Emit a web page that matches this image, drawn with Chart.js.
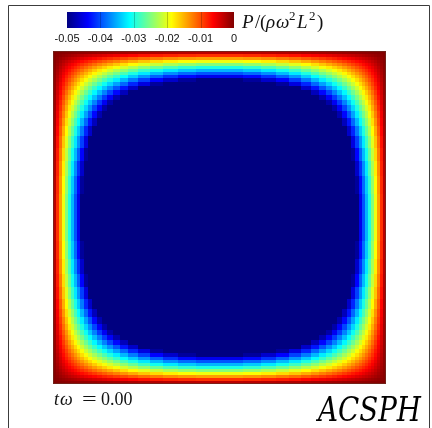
<!DOCTYPE html>
<html><head><meta charset="utf-8">
<script src="https://cdn.jsdelivr.net/npm/chart.js@4.4.1/dist/chart.umd.min.js"></script>
<style>html,body{margin:0;padding:0;background:#fff;overflow:hidden}</style>
</head><body>
<canvas id="c" width="432" height="428"></canvas>
<script>
// ---- data: cell edges in x/L (one quadrant, mirrored) and P/(rho w^2 L^2) per cell ----
const quarterEdges = [0, 0.009, 0.018, 0.027, 0.036, 0.045, 0.054, 0.063, 0.072, 0.082, 0.093, 0.105, 0.118, 0.132, 0.147, 0.163, 0.18, 0.2, 0.225, 0.255, 0.29, 0.33, 0.375, 0.43, 0.5];
const pressureQuarter = [
 [-.0001,-.0002,-.0003,-.0004,-.0005,-.0006,-.0007,-.0008,-.0009,-.0010,-.0011,-.0012,-.0013,-.0015,-.0016,-.0017,-.0019,-.0020,-.0022,-.0024,-.0025,-.0027,-.0028,-.0029],
 [-.0002,-.0005,-.0008,-.0011,-.0014,-.0017,-.0020,-.0023,-.0026,-.0029,-.0033,-.0036,-.0040,-.0043,-.0047,-.0051,-.0055,-.0059,-.0064,-.0070,-.0075,-.0079,-.0083,-.0086],
 [-.0003,-.0008,-.0014,-.0019,-.0024,-.0029,-.0034,-.0038,-.0043,-.0048,-.0054,-.0059,-.0065,-.0071,-.0078,-.0084,-.0091,-.0098,-.0106,-.0115,-.0123,-.0131,-.0137,-.0141],
 [-.0004,-.0011,-.0019,-.0026,-.0033,-.0040,-.0046,-.0053,-.0060,-.0067,-.0074,-.0082,-.0090,-.0099,-.0107,-.0116,-.0125,-.0135,-.0147,-.0159,-.0170,-.0180,-.0189,-.0195],
 [-.0005,-.0014,-.0024,-.0033,-.0042,-.0051,-.0059,-.0067,-.0076,-.0085,-.0094,-.0104,-.0115,-.0126,-.0136,-.0147,-.0159,-.0172,-.0186,-.0201,-.0216,-.0229,-.0240,-.0248],
 [-.0006,-.0017,-.0029,-.0040,-.0051,-.0061,-.0071,-.0081,-.0091,-.0102,-.0114,-.0126,-.0139,-.0152,-.0165,-.0178,-.0192,-.0208,-.0225,-.0243,-.0261,-.0276,-.0290,-.0299],
 [-.0007,-.0020,-.0034,-.0046,-.0059,-.0071,-.0083,-.0095,-.0107,-.0119,-.0133,-.0147,-.0162,-.0177,-.0192,-.0208,-.0224,-.0242,-.0262,-.0284,-.0304,-.0323,-.0338,-.0349],
 [-.0008,-.0023,-.0038,-.0053,-.0067,-.0081,-.0095,-.0108,-.0122,-.0136,-.0151,-.0168,-.0184,-.0202,-.0219,-.0237,-.0255,-.0276,-.0299,-.0323,-.0346,-.0368,-.0385,-.0397],
 [-.0009,-.0026,-.0043,-.0060,-.0076,-.0091,-.0107,-.0122,-.0138,-.0153,-.0171,-.0189,-.0208,-.0227,-.0246,-.0266,-.0287,-.0311,-.0337,-.0364,-.0390,-.0414,-.0434,-.0447],
 [-.0010,-.0029,-.0048,-.0067,-.0085,-.0102,-.0119,-.0136,-.0153,-.0172,-.0191,-.0211,-.0232,-.0254,-.0276,-.0298,-.0321,-.0348,-.0377,-.0407,-.0437,-.0463,-.0486,-.0501],
 [-.0011,-.0033,-.0054,-.0074,-.0094,-.0114,-.0133,-.0151,-.0171,-.0191,-.0213,-.0235,-.0259,-.0283,-.0307,-.0332,-.0358,-.0387,-.0420,-.0453,-.0486,-.0516,-.0541,-.0557],
 [-.0012,-.0036,-.0059,-.0082,-.0104,-.0126,-.0147,-.0168,-.0189,-.0211,-.0235,-.0260,-.0286,-.0313,-.0340,-.0367,-.0396,-.0428,-.0464,-.0501,-.0538,-.0570,-.0598,-.0617],
 [-.0013,-.0040,-.0065,-.0090,-.0115,-.0139,-.0162,-.0184,-.0208,-.0232,-.0259,-.0286,-.0315,-.0344,-.0374,-.0404,-.0435,-.0471,-.0510,-.0551,-.0591,-.0627,-.0658,-.0678],
 [-.0015,-.0043,-.0071,-.0099,-.0126,-.0152,-.0177,-.0202,-.0227,-.0254,-.0283,-.0313,-.0344,-.0376,-.0409,-.0441,-.0476,-.0515,-.0558,-.0602,-.0646,-.0685,-.0719,-.0741],
 [-.0016,-.0047,-.0078,-.0107,-.0136,-.0165,-.0192,-.0219,-.0246,-.0276,-.0307,-.0340,-.0374,-.0409,-.0444,-.0480,-.0517,-.0559,-.0606,-.0655,-.0702,-.0745,-.0781,-.0805],
 [-.0017,-.0051,-.0084,-.0116,-.0147,-.0178,-.0208,-.0237,-.0266,-.0298,-.0332,-.0367,-.0404,-.0441,-.0480,-.0518,-.0559,-.0604,-.0655,-.0707,-.0758,-.0804,-.0843,-.0869],
 [-.0019,-.0055,-.0091,-.0125,-.0159,-.0192,-.0224,-.0255,-.0287,-.0321,-.0358,-.0396,-.0435,-.0476,-.0517,-.0559,-.0602,-.0651,-.0706,-.0762,-.0817,-.0867,-.0909,-.0937],
 [-.0020,-.0059,-.0098,-.0135,-.0172,-.0208,-.0242,-.0276,-.0311,-.0348,-.0387,-.0428,-.0471,-.0515,-.0559,-.0604,-.0651,-.0704,-.0763,-.0824,-.0884,-.0937,-.0983,-.1013],
 [-.0022,-.0064,-.0106,-.0147,-.0186,-.0225,-.0262,-.0299,-.0337,-.0377,-.0420,-.0464,-.0510,-.0558,-.0606,-.0655,-.0706,-.0763,-.0827,-.0893,-.0957,-.1016,-.1065,-.1098],
 [-.0024,-.0070,-.0115,-.0159,-.0201,-.0243,-.0284,-.0323,-.0364,-.0407,-.0453,-.0501,-.0551,-.0602,-.0655,-.0707,-.0762,-.0824,-.0893,-.0964,-.1034,-.1097,-.1150,-.1185],
 [-.0025,-.0075,-.0123,-.0170,-.0216,-.0261,-.0304,-.0346,-.0390,-.0437,-.0486,-.0538,-.0591,-.0646,-.0702,-.0758,-.0817,-.0884,-.0957,-.1034,-.1108,-.1176,-.1232,-.1270],
 [-.0027,-.0079,-.0131,-.0180,-.0229,-.0276,-.0323,-.0368,-.0414,-.0463,-.0516,-.0570,-.0627,-.0685,-.0745,-.0804,-.0867,-.0937,-.1016,-.1097,-.1176,-.1247,-.1307,-.1347],
 [-.0028,-.0083,-.0137,-.0189,-.0240,-.0290,-.0338,-.0385,-.0434,-.0486,-.0541,-.0598,-.0658,-.0719,-.0781,-.0843,-.0909,-.0983,-.1065,-.1150,-.1232,-.1307,-.1370,-.1412],
 [-.0029,-.0086,-.0141,-.0195,-.0248,-.0299,-.0349,-.0397,-.0447,-.0501,-.0557,-.0617,-.0678,-.0741,-.0805,-.0869,-.0937,-.1013,-.1098,-.1185,-.1270,-.1347,-.1412,-.1456]
];
const colorbarTicks = [-0.05, -0.04, -0.03, -0.02, -0.01, 0];
const colorbarTickLabels = ['-0.05', '-0.04', '-0.03', '-0.02', '-0.01', '0'];
const colorRange = [-0.05, 0];
const timeLabel = ['t', 'ω', '=', '0.00'];
const methodLabel = 'ACSPH';

// ---- colour map (jet) ----
function jet(v) {
  let t = (v - colorRange[0]) / (colorRange[1] - colorRange[0]);
  t = Math.max(0, Math.min(1, t));
  const c = x => Math.round(255 * Math.max(0, Math.min(1, x)));
  return 'rgb(' + c(1.5 - Math.abs(4 * t - 3)) + ',' + c(1.5 - Math.abs(4 * t - 2)) + ',' + c(1.5 - Math.abs(4 * t - 1)) + ')';
}

// ---- full grid by mirroring the quadrant ----
const nQ = pressureQuarter.length;
const edges = quarterEdges.concat(quarterEdges.slice(0, -1).reverse().map(e => +(1 - e).toFixed(4)));
const cells = [];
for (let k = 0; k < 2 * nQ; k++) {
  const qk = k < nQ ? k : 2 * nQ - 1 - k;
  for (let m = 0; m < 2 * nQ; m++) {
    const qm = m < nQ ? m : 2 * nQ - 1 - m;
    cells.push({
      x: (edges[k] + edges[k + 1]) / 2, y: (edges[m] + edges[m + 1]) / 2,
      x0: edges[k], x1: edges[k + 1], y0: edges[m], y1: edges[m + 1],
      v: pressureQuarter[qk][qm]
    });
  }
}

// ---- custom heat-map element/controller ----
class CellElement extends Chart.Element {
  static id = 'cell';
  static defaults = { backgroundColor: '#000' };
  constructor(cfg) {
    super();
    this.options = undefined;
    this.x0 = this.x1 = this.y0 = this.y1 = undefined;
    if (cfg) Object.assign(this, cfg);
  }
  draw(ctx) {
    const l = Math.round(Math.min(this.x0, this.x1)), r = Math.round(Math.max(this.x0, this.x1));
    const t = Math.round(Math.min(this.y0, this.y1)), b = Math.round(Math.max(this.y0, this.y1));
    ctx.save();
    ctx.fillStyle = this.options.backgroundColor;
    ctx.fillRect(l, t, r - l, b - t);
    ctx.restore();
  }
  inRange(mx, my) {
    return mx >= Math.min(this.x0, this.x1) && mx <= Math.max(this.x0, this.x1) &&
           my >= Math.min(this.y0, this.y1) && my <= Math.max(this.y0, this.y1);
  }
  inXRange(mx) { return mx >= Math.min(this.x0, this.x1) && mx <= Math.max(this.x0, this.x1); }
  inYRange(my) { return my >= Math.min(this.y0, this.y1) && my <= Math.max(this.y0, this.y1); }
  getCenterPoint() { return { x: (this.x0 + this.x1) / 2, y: (this.y0 + this.y1) / 2 }; }
  tooltipPosition() { return this.getCenterPoint(); }
}

class HeatController extends Chart.DatasetController {
  static id = 'heat';
  static defaults = { datasetElementType: false, dataElementType: 'cell' };
  update(mode) {
    const meta = this._cachedMeta;
    this.updateElements(meta.data, 0, meta.data.length, mode);
  }
  updateElements(elems, start, count, mode) {
    const meta = this._cachedMeta;
    const xs = meta.xScale, ys = meta.yScale;
    const data = this.getDataset().data;
    for (let i = start; i < start + count; i++) {
      const d = data[i];
      this.updateElement(elems[i], i, {
        x0: xs.getPixelForValue(d.x0), x1: xs.getPixelForValue(d.x1),
        y0: ys.getPixelForValue(d.y0), y1: ys.getPixelForValue(d.y1),
        options: this.resolveDataElementOptions(i, mode)
      }, mode);
    }
  }
}
Chart.register(HeatController, CellElement);

// ---- decorations: frame, colour bar, labels ----
const SERIF = '"Liberation Serif", "Times New Roman", serif';
const decor = {
  id: 'decor',
  afterDraw(chart) {
    const ctx = chart.ctx;
    const a = chart.chartArea;
    ctx.save();
    // frame
    ctx.strokeStyle = '#3c3c3c';
    ctx.lineWidth = 1;
    ctx.beginPath();
    ctx.moveTo(8.5, 428); ctx.lineTo(8.5, 5.5); ctx.lineTo(429.5, 5.5); ctx.lineTo(429.5, 428);
    ctx.stroke();
    // plot border
    ctx.strokeStyle = 'rgba(110,40,30,0.8)';
    ctx.strokeRect(a.left + 0.5, a.top + 0.5, a.right - a.left - 1, a.bottom - a.top - 1);

    // colour bar
    const cb = { left: 67, right: 234, top: 12, bottom: 28 };
    const g = ctx.createLinearGradient(cb.left, 0, cb.right, 0);
    for (let i = 0; i <= 40; i++) {
      const v = colorRange[0] + (colorRange[1] - colorRange[0]) * i / 40;
      g.addColorStop(i / 40, jet(v));
    }
    ctx.fillStyle = g;
    ctx.fillRect(cb.left, cb.top, cb.right - cb.left, cb.bottom - cb.top);
    const px = v => cb.left + (v - colorRange[0]) / (colorRange[1] - colorRange[0]) * (cb.right - cb.left);
    ctx.strokeStyle = 'rgba(0,0,0,0.22)';
    colorbarTicks.forEach((v, i) => {
      if (i === 0 || i === colorbarTicks.length - 1) return;
      const x = Math.round(px(v)) + 0.5;
      ctx.beginPath(); ctx.moveTo(x, cb.top); ctx.lineTo(x, cb.bottom); ctx.stroke();
    });
    ctx.fillStyle = '#111';
    ctx.font = '11px "Liberation Sans", Arial, sans-serif';
    ctx.textAlign = 'center';
    ctx.textBaseline = 'alphabetic';
    colorbarTicks.forEach((v, i) => ctx.fillText(colorbarTickLabels[i], px(v), 42));

    // colour bar title  P/(ρω²L²)
    ctx.textAlign = 'left';
    const big = 19, small = 13, base = 28, sup = 20;
    const parts = [
      ['P', 'italic', big, 242, base], ['/', '', big, 255, base], ['(', '', big, 260, base],
      ['ρ', 'italic', big, 266, base], ['ω', 'italic', big, 276, base], ['2', '', small, 289, sup],
      ['L', 'italic', big, 297, base], ['2', '', small, 309, sup], [')', '', big, 317, base]
    ];
    parts.forEach(p => {
      ctx.font = (p[1] ? p[1] + ' ' : '') + p[2] + 'px ' + SERIF;
      ctx.fillText(p[0], p[3], p[4]);
    });

    // time label  tω = 0.00
    ctx.font = 'italic 18px ' + SERIF;
    ctx.fillText(timeLabel[0], 54, 405);
    ctx.fillText(timeLabel[1], 60, 405);
    ctx.save();
    ctx.font = '18px ' + SERIF;
    ctx.translate(82, 405); ctx.scale(1.45, 1);
    ctx.fillText(timeLabel[2], 0, 0);
    ctx.restore();
    ctx.font = '18px ' + SERIF;
    ctx.fillText(timeLabel[3], 101, 405);

    // method label
    ctx.font = 'italic 33px "DejaVu Serif", serif';
    const w = ctx.measureText(methodLabel).width;
    const target = 103;
    ctx.translate(318, 421);
    ctx.scale(target / w, 1);
    ctx.fillStyle = '#000';
    ctx.fillText(methodLabel, 0, 0);
    ctx.restore();
  }
};

new Chart(document.getElementById('c').getContext('2d'), {
  type: 'heat',
  data: { datasets: [{ data: cells, backgroundColor: c => jet(c.raw ? c.raw.v : 0) }] },
  options: {
    responsive: false,
    animation: false,
    devicePixelRatio: 1,
    events: [],
    layout: { padding: { left: 53, top: 51, right: 46, bottom: 44 } },
    scales: {
      x: { type: 'linear', min: 0, max: 1, display: false },
      y: { type: 'linear', min: 0, max: 1, display: false }
    },
    plugins: { legend: { display: false }, tooltip: { enabled: false } }
  },
  plugins: [decor]
});
</script>
</body></html>
